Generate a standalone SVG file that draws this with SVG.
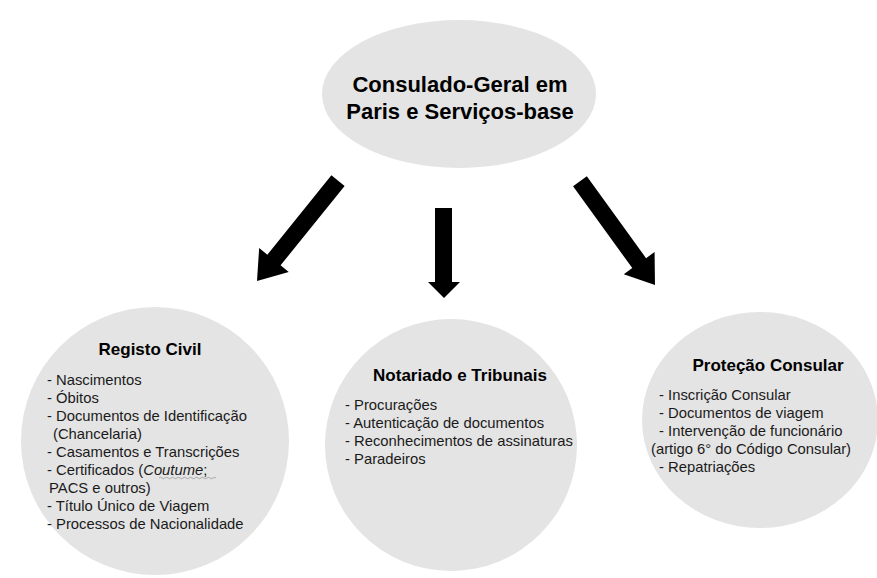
<svg xmlns="http://www.w3.org/2000/svg" width="877" height="578" viewBox="0 0 877 578">
  <defs>
    <style>
      .bubble { fill: #e4e4e4; }
      .title { font-family: "Liberation Sans", Arial, sans-serif; font-weight: bold; fill: #000; text-anchor: middle; }
      .item { font-family: "Liberation Sans", Arial, sans-serif; font-size: 14.8px; fill: #1a1a1a; }
      .arrow { fill: #000; }
    </style>
  </defs>
  <rect width="877" height="578" fill="#fff"/>

  <!-- block arrows: drawn pointing down (+y) with the tip at the origin, then rotated -->
  <g id="connectors" class="arrow">
    <polygon transform="translate(257,281) rotate(38.9)" points="-8.5,-129 8.5,-129 8.5,-27 19,-27 0,0 -19,-27 -8.5,-27"/>
    <polygon points="435,208 452,208 452,282 460,282 444,298 428,282 435,282"/>
    <polygon transform="translate(655,285) rotate(-35.9)" points="-8.5,-128 8.5,-128 8.5,-27 19,-27 0,0 -19,-27 -8.5,-27"/>
  </g>

  <g id="node-consulado">
    <ellipse class="bubble" cx="459" cy="94" rx="137" ry="74"/>
    <text class="title" font-size="22" x="460" y="92">Consulado-Geral em</text>
    <text class="title" font-size="22" x="460" y="119">Paris e Serviços-base</text>
  </g>

  <g id="node-registo">
    <circle class="bubble" cx="155" cy="441" r="134"/>
    <text class="title" font-size="17" x="150" y="355">Registo Civil</text>
    <text class="item" x="47" y="385">- Nascimentos</text>
    <text class="item" x="47" y="403">- Óbitos</text>
    <text class="item" x="47" y="421">- Documentos de Identificação</text>
    <text class="item" x="53" y="439">(Chancelaria)</text>
    <text class="item" x="47" y="457">- Casamentos e Transcrições</text>
    <text class="item" x="47" y="475">- Certificados (<tspan font-style="italic">Coutume</tspan>;</text>
    <path d="M159,478 q1.5,-1.5 3,0 t3,0 t3,0 t3,0 t3,0 t3,0 t3,0 t3,0 t3,0 t3,0 t3,0 t3,0 t3,0 t3,0 t3,0 t3,0 t3,0 t3,0 t3,0" fill="none" stroke="#999" stroke-width="0.8"/>
    <text class="item" x="49" y="493">PACS e outros)</text>
    <text class="item" x="47" y="511">- Título Único de Viagem</text>
    <text class="item" x="47" y="529">- Processos de Nacionalidade</text>
  </g>

  <g id="node-notariado">
    <circle class="bubble" cx="451" cy="445" r="126"/>
    <text class="title" font-size="17" x="460" y="381">Notariado e Tribunais</text>
    <text class="item" x="345" y="410">- Procurações</text>
    <text class="item" x="345" y="428">- Autenticação de documentos</text>
    <text class="item" x="345" y="446">- Reconhecimentos de assinaturas</text>
    <text class="item" x="345" y="464">- Paradeiros</text>
  </g>

  <g id="node-protecao">
    <ellipse class="bubble" cx="760" cy="420" rx="118" ry="108"/>
    <text class="title" font-size="17" x="768" y="371">Proteção Consular</text>
    <text class="item" x="659" y="400">- Inscrição Consular</text>
    <text class="item" x="659" y="418">- Documentos de viagem</text>
    <text class="item" x="659" y="436">- Intervenção de funcionário</text>
    <text class="item" x="651" y="454">(artigo 6° do Código Consular)</text>
    <text class="item" x="659" y="472">- Repatriações</text>
  </g>
</svg>
